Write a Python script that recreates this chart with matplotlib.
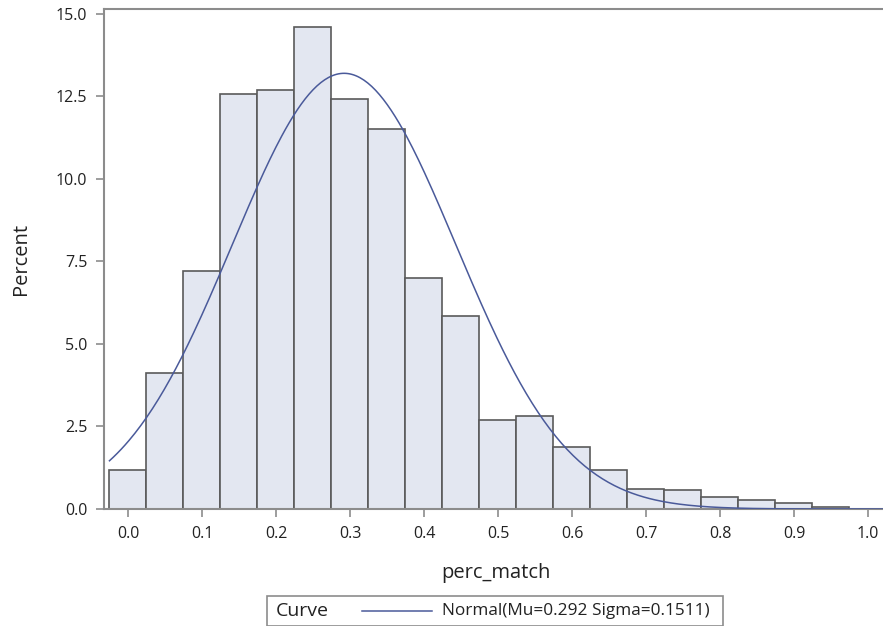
import numpy as np
import matplotlib
matplotlib.use("Agg")
import matplotlib.pyplot as plt
from matplotlib.lines import Line2D
from matplotlib.patches import Rectangle

# histogram bins (midpoints) and percent per bin
bin_mid = [0.00, 0.05, 0.10, 0.15, 0.20, 0.25, 0.30, 0.35, 0.40, 0.45,
           0.50, 0.55, 0.60, 0.65, 0.70, 0.75, 0.80, 0.85, 0.90, 0.95]
percent = [1.18, 4.12, 7.21, 12.58, 12.71, 14.60, 12.42, 11.52, 7.00, 5.85,
           2.70, 2.82, 1.88, 1.18, 0.60, 0.57, 0.36, 0.28, 0.19, 0.07]
bin_width = 0.05

# fitted normal from the legend
mu = 0.292
sigma = 0.1511

x_ticks = [0.0, 0.1, 0.2, 0.3, 0.4, 0.5, 0.6, 0.7, 0.8, 0.9, 1.0]
y_ticks = [0.0, 2.5, 5.0, 7.5, 10.0, 12.5, 15.0]

plt.rcParams['font.family'] = ['Open Sans', 'DejaVu Sans']

W, H = 883, 626
fig = plt.figure(figsize=(W / 100, H / 100), dpi=100)
ax = fig.add_axes([104 / W, 1 - 509 / H, (W - 104) / W, (509 - 9) / H])

ax.bar(bin_mid, percent, width=bin_width, color='#e3e7f1',
       edgecolor='#5a5a5a', linewidth=1.2, zorder=2)

xs = np.linspace(bin_mid[0] - bin_width / 2, 1.03, 400)
ys = 100 * bin_width * np.exp(-0.5 * ((xs - mu) / sigma) ** 2) / (sigma * np.sqrt(2 * np.pi))
curve, = ax.plot(xs, ys, color='#4a5a9a', linewidth=1.1, zorder=3)

ax.set_xlim(-0.0324, 1.0203)
ax.set_ylim(0, 15.15)
ax.set_xticks(x_ticks)
ax.set_xticklabels([f"{v:.1f}" for v in x_ticks])
ax.set_yticks(y_ticks)
ax.set_yticklabels([f"{v:.1f}" for v in y_ticks])
ax.tick_params(direction='out', length=6, width=1.2, color='#8c8c8c',
               labelsize=11.5, labelcolor='#222222', pad=6)

for side in ['left', 'top', 'bottom']:
    ax.spines[side].set_color('#8c8c8c')
    ax.spines[side].set_linewidth(1.5)
ax.spines['right'].set_visible(False)

fig.text(496 / W, 1 - 573 / H, "perc_match", ha='center', va='center',
         fontsize=14.5, color='#222222')
fig.text(21 / W, 1 - 259 / H, "Percent", ha='center', va='center',
         rotation=90, fontsize=14.5, color='#222222')

# legend box
fig.add_artist(Rectangle((267 / W, 1 - 626 / H), (723 - 267) / W, 30 / H,
                         transform=fig.transFigure, facecolor='white',
                         edgecolor='#8c8c8c', linewidth=1.2))
fig.text(276 / W, 1 - 611 / H, "Curve", ha='left', va='center',
         fontsize=14, color='#222222')
fig.add_artist(Line2D([362 / W, 432 / W], [1 - 611 / H, 1 - 611 / H],
                      transform=fig.transFigure, color=curve.get_color(),
                      linewidth=1.1))
fig.text(442 / W, 1 - 611 / H, "Normal(Mu=0.292 Sigma=0.1511)", ha='left',
         va='center', fontsize=12.4, color='#222222')

fig.savefig("out.png", dpi=100)
